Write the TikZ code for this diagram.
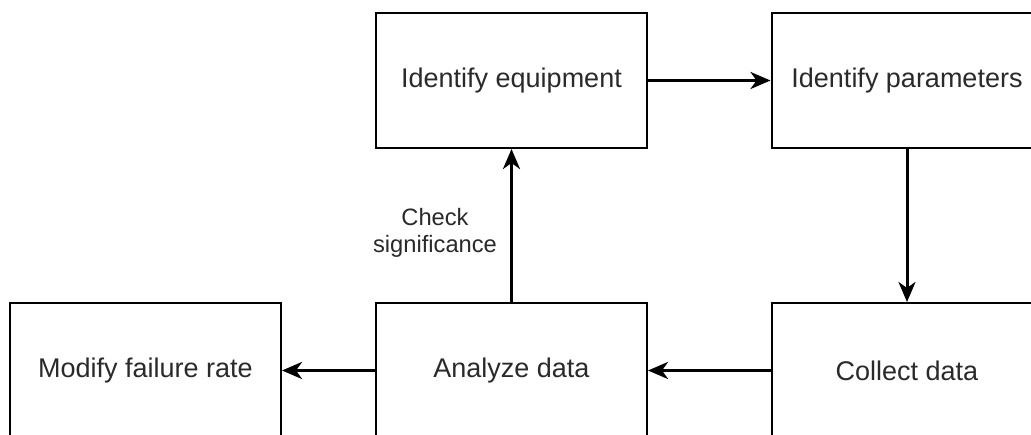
\documentclass[tikz,border=0pt]{standalone}
\usepackage{fontspec}
\setmainfont{Liberation Sans}
\usetikzlibrary{arrows.meta}
\definecolor{txt}{HTML}{2A2A2A}
\tikzset{
  box/.style={draw=black, line width=2pt, minimum width=271pt, minimum height=135pt, inner sep=0pt, font=\fontsize{27}{32}\selectfont, text=txt},
  conn/.style={line width=3pt, -{Stealth[length=20pt, width=17pt, inset=6pt]}},
  lbl/.style={align=center, font=\fontsize{23.7}{27}\selectfont, text=txt}
}
\begin{document}
\begin{tikzpicture}[x=1pt,y=-1pt]
\useasboundingbox (0,0) rectangle (1031,435);
\fill[white] (0,0) rectangle (1031,435);
\node[box] (equip) at (511.5,80.5) {Identify equipment};
\node[box] (params) at (907,80.5) {Identify parameters};
\node[box] (modify) at (145.5,370.5) {Modify failure rate};
\node[box] (analyze) at (511.5,370.5) {Analyze data};
\node[box] (collect) at (907,370.5) {Collect data};
\draw[conn] (equip.east) -- (params.west);
\draw[conn] (params.south) -- (collect.north);
\draw[conn] (collect.west) -- (analyze.east);
\draw[conn] (analyze.west) -- (modify.east);
\draw[conn] (analyze.north) -- (equip.south);
\node[lbl] (chk) at (435,233) {Check\\significance};
\end{tikzpicture}
\end{document}
